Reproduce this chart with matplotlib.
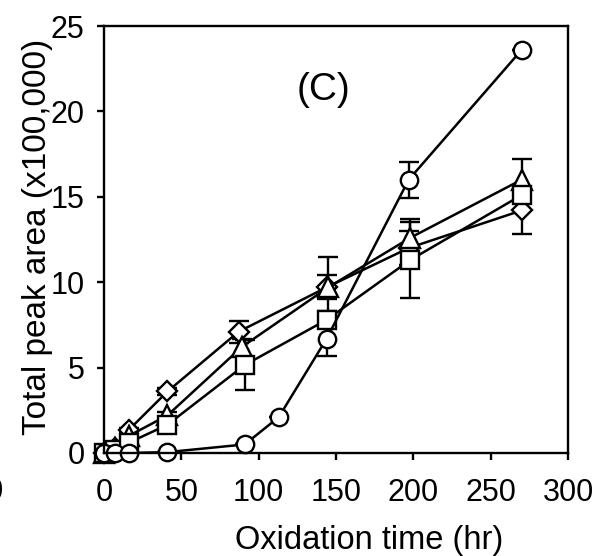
import matplotlib
matplotlib.use("Agg")
import matplotlib.pyplot as plt

plt.rcParams["font.family"] = ["Liberation Sans", "DejaVu Sans"]

# oxidation time (hr) and total peak area (x100,000), one set per marker
diamond_t = [0, 7, 16, 41, 87, 144, 197, 270]
diamond_v = [0, 0.3, 1.35, 3.6, 7.1, 9.7, 12.0, 14.2]
diamond_err = [0, 0, 0.1, 0.2, 0.65, 0.7, 1.0, 1.4]

triangle_t = [0, 7, 16, 41, 89, 145, 198, 270]
triangle_v = [0, 0.3, 1.0, 2.2, 6.2, 9.7, 12.6, 16.0]
triangle_err = [0, 0, 0.1, 0.2, 0.5, 1.75, 1.1, 1.2]

square_t = [0, 7, 16, 41, 91, 144, 198, 270]
square_v = [0, 0.2, 0.6, 1.65, 5.15, 7.8, 11.3, 15.1]
square_err = [0, 0, 0.1, 0.2, 1.45, 0.5, 2.2, 0.4]

circle_t = [0, 7, 16, 41, 91, 113, 144, 197, 270]
circle_v = [0, 0, 0, 0.05, 0.5, 2.1, 6.7, 16.0, 23.6]
circle_err = [0, 0, 0, 0, 0, 0, 1.0, 1.05, 0]

x_ticks = [0, 50, 100, 150, 200, 250, 300]
y_ticks = [0, 5, 10, 15, 20, 25]

series = [
    (diamond_t, diamond_v, diamond_err, "D", 10.5),
    (triangle_t, triangle_v, triangle_err, "^", 14),
    (square_t, square_v, square_err, "s", 13),
    (circle_t, circle_v, circle_err, "o", 12.5),
]

fig = plt.figure(figsize=(6.02, 5.56), dpi=100)
ax = fig.add_axes([0.1728, 0.1853, 0.7707, 0.7679])

for t, v, err, marker, ms in series:
    ax.errorbar(t, v, yerr=err, color="black", lw=1.8, marker=marker,
                ms=ms, mfc="white", mec="black", mew=1.7,
                capsize=7, capthick=1.7, elinewidth=1.7, clip_on=False)

ax.set_xlim(0, 300)
ax.set_ylim(0, 25)
ax.set_xticks(x_ticks)
ax.set_yticks(y_ticks)
ax.tick_params(direction="out", length=5, width=1.7, labelsize=22)
ax.tick_params(axis="x", pad=13)
ax.tick_params(axis="y", pad=9)
for s in ax.spines.values():
    s.set_linewidth(1.7)

ax.set_xlabel("Oxidation time (hr)", fontsize=23.5)
ax.xaxis.set_label_coords(0.571, -0.168)
ax.set_ylabel("Total peak area (x100,000)", fontsize=24)
ax.yaxis.set_label_coords(-0.110, 0.506)

ax.text(0.472, 0.85, "(C)", transform=ax.transAxes, fontsize=28,
        ha="center", va="center")

# cut-off tick label of the neighbouring panel
fig.text(4 / 602, 1 - 492 / 556, "300", fontsize=22, ha="right", va="center")

fig.savefig("out.png", dpi=100)
